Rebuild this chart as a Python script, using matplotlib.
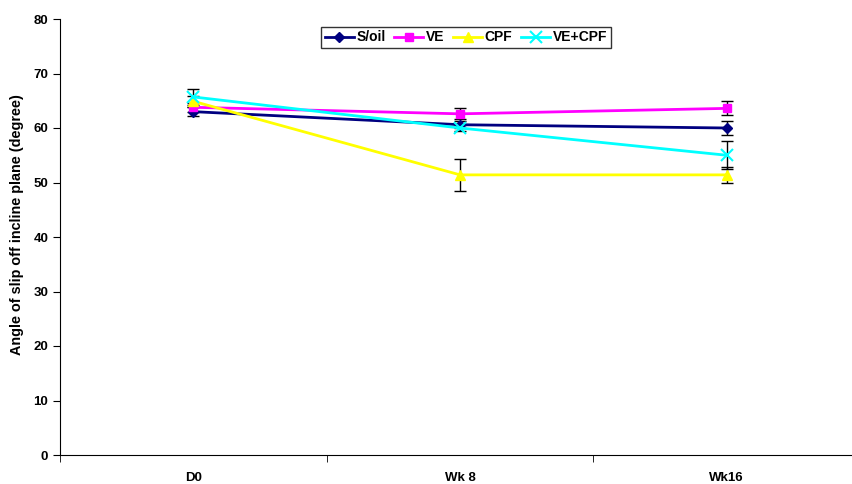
import numpy as np
import matplotlib
matplotlib.use("Agg")
import matplotlib.pyplot as plt

plt.rcParams['font.family'] = ['Liberation Sans', 'DejaVu Sans']
plt.rcParams['font.weight'] = 'bold'

groups = ['D0', 'Wk 8', 'Wk16']
series = ['S/oil', 'VE', 'CPF', 'VE+CPF']
soil = [63.0, 60.6, 60.0]
ve = [63.8, 62.6, 63.6]
cpf = [64.9, 51.4, 51.4]
vecpf = [65.7, 60.0, 55.0]
soil_err = [0.8, 0.6, 1.2]
ve_err = [0.8, 1.0, 1.3]
cpf_err = [1.0, 2.9, 1.4]
vecpf_err = [1.5, 0.5, 2.6]

colors = ['#000080', '#FF00FF', '#FFFF00', '#00FFFF']
markers = ['D', 's', '^', 'x']
sizes = [5, 6, 7, 8]

fig = plt.figure(figsize=(8.53, 4.84), dpi=100)
ax = fig.add_axes([60 / 853, 29 / 484, 800 / 853, 436 / 484])

x = np.arange(len(groups))
for vals, errs, name, c, m, s in zip([soil, ve, cpf, vecpf],
                                      [soil_err, ve_err, cpf_err, vecpf_err],
                                      series, colors, markers, sizes):
    ax.errorbar(x, vals, yerr=errs, fmt='none', ecolor='black', elinewidth=1,
                capsize=4, capthick=1, zorder=2)
    ax.plot(x, vals, color=c, marker=m, markersize=s, linewidth=2,
            markeredgewidth=1.5 if m == 'x' else 1, label=name, zorder=3)

ax.set_xlim(-0.5, 2.5)
ax.set_ylim(0, 80)
ax.set_yticks(range(0, 81, 10))
ax.set_xticks(x)
ax.set_xticklabels(groups, fontsize=9.5, fontweight='bold')
ax.set_xticks([-0.5, 0.5, 1.5, 2.5], minor=True)
ax.tick_params(axis='x', which='major', length=0, pad=12)
ax.tick_params(axis='x', which='minor', length=5, direction='out')
ax.tick_params(axis='y', length=5, direction='out', labelsize=9.5)
for lab in ax.get_yticklabels():
    lab.set_fontweight('bold')
ax.spines['top'].set_visible(False)
ax.spines['right'].set_visible(False)
ax.set_ylabel('Angle of slip off incline plane (degree)', fontsize=10.4,
              fontweight='bold')
ax.yaxis.set_label_coords(24 / 853, 1 - 225 / 484, transform=fig.transFigure)

leg = ax.legend(loc='upper center', ncol=4, frameon=True, fancybox=False,
                edgecolor='black', fontsize=10, handlelength=2.1, columnspacing=0.6,
                handletextpad=0.2, borderpad=0.25, borderaxespad=0)
leg.set_bbox_to_anchor((466 / 853, 1 - 27 / 484), transform=fig.transFigure)
leg.get_frame().set_linewidth(1)

fig.savefig('out.png', dpi=100)
